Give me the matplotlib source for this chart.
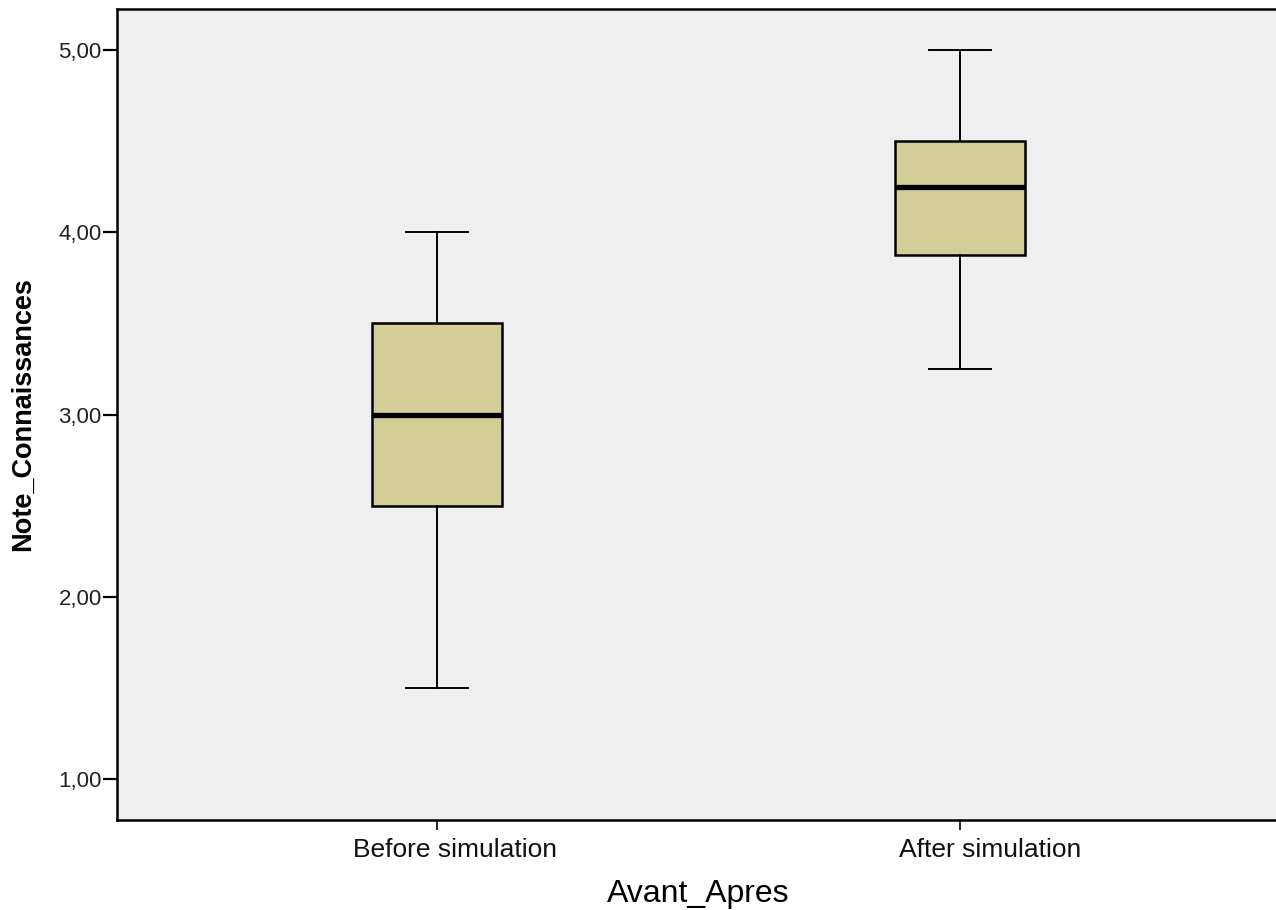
import matplotlib
matplotlib.use("Agg")
import matplotlib.pyplot as plt
import matplotlib.transforms as mtransforms
from matplotlib.ticker import FuncFormatter

# values
groups = ["Before simulation", "After simulation"]
whisker_low = [1.50, 3.25]
q1 = [2.50, 3.875]
median = [3.00, 4.25]
q3 = [3.50, 4.50]
whisker_high = [4.00, 5.00]
y_ticks = [1.0, 2.0, 3.0, 4.0, 5.0]

plt.rcParams['font.family'] = ['Liberation Sans', 'DejaVu Sans']

fig = plt.figure(figsize=(12.76, 9.10), dpi=100)
ax = fig.add_axes([117 / 1276, 90 / 910, (1280 - 117) / 1276, (820 - 9) / 910])
ax.set_facecolor("#efefef")

stats = []
for i in range(len(groups)):
    stats.append({
        "whislo": whisker_low[i], "q1": q1[i], "med": median[i],
        "q3": q3[i], "whishi": whisker_high[i], "fliers": [],
    })

ax.bxp(stats, positions=range(len(groups)), widths=0.249, capwidths=0.12,
       patch_artist=True, showfliers=False,
       boxprops=dict(facecolor="#d3ce98", edgecolor="black", linewidth=1.8),
       medianprops=dict(color="black", linewidth=3.8, solid_capstyle="butt"),
       whiskerprops=dict(color="black", linewidth=1.4),
       capprops=dict(color="black", linewidth=1.4))

ax.set_xlim(-0.612, 1.612)
ax.set_ylim(0.778, 5.223)
ax.set_xticks(range(len(groups)))
ax.set_xticklabels(groups, fontsize=19)
ax.set_yticks(y_ticks)
ax.yaxis.set_major_formatter(FuncFormatter(lambda v, p: f"{v:.2f}".replace(".", ",")))
ax.tick_params(axis="y", labelsize=16, length=10, width=1.6, color="black",
               labelcolor="#222222", pad=1)
ax.tick_params(axis="x", length=7, width=1.2, pad=6, labelcolor="#111111")

# SPSS puts the category labels a little to the right of the tick
for lbl, dx in zip(ax.get_xticklabels(), [18, 30]):
    lbl.set_transform(lbl.get_transform() + mtransforms.ScaledTranslation(dx / 100, 0, fig.dpi_scale_trans))

for side in ["left", "bottom", "top"]:
    ax.spines[side].set_linewidth(1.8)
ax.spines["right"].set_visible(False)

ax.set_xlabel("Avant_Apres", fontsize=23, labelpad=12)
ax.set_ylabel("Note_Connaissances", fontsize=19.5, fontweight="bold", labelpad=16)

fig.savefig("out.png", dpi=100)
